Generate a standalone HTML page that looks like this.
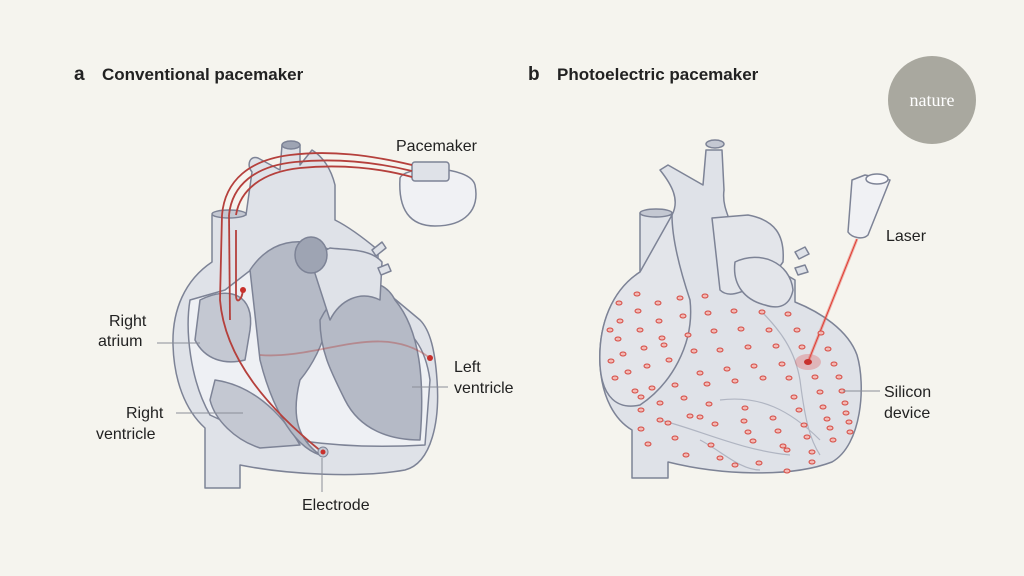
<!DOCTYPE html>
<html><head><meta charset="utf-8"><style>
html,body{margin:0;padding:0;background:#f5f4ee;}
svg{display:block}
text{font-family:"Liberation Sans",sans-serif;fill:#222;}
</style></head><body>
<svg width="1024" height="576" viewBox="0 0 1024 576">
<rect width="1024" height="576" fill="#f5f4ee"/>
<text x="74" y="80" font-size="19" font-weight="bold">a</text>
<text x="102" y="80" font-size="17" font-weight="bold">Conventional pacemaker</text>
<text x="528" y="80" font-size="19" font-weight="bold">b</text>
<text x="557" y="80" font-size="17" font-weight="bold">Photoelectric pacemaker</text>
<circle cx="932" cy="100" r="44" fill="#a9a89f"/>
<text x="932" y="106" font-size="18" text-anchor="middle" style="fill:#fff;font-family:'Liberation Serif',serif">nature</text>

<!-- Heart A -->
<g stroke="#7d8396" stroke-width="1.5" stroke-linejoin="round">
<path d="M212 215 L212 262 C185 280 172 310 173 345 C174 380 185 410 205 428 L205 488 L240 488 L240 465 C290 475 360 478 405 470 C432 463 440 420 437 380 C435 350 430 330 420 320 L378 285 L378 250 C360 235 345 225 335 220 L335 185 C330 165 320 155 312 150 L300 165 L300 145 L282 145 L280 170 L258 158 C250 155 246 165 252 172 L246 215 Z" fill="#dfe2e8"/>
<path d="M190 300 C185 330 190 380 210 415 C260 440 340 450 425 445 L430 380 C425 345 410 330 395 325 L370 300 L330 260 L270 255 L225 290 Z" fill="#eef0f4"/>
<path d="M200 300 C230 285 255 295 250 330 L245 360 C225 365 205 360 195 340 Z" fill="#c4c8d2"/>
<path d="M215 380 C250 385 280 410 300 445 L260 448 C235 440 215 420 210 400 Z" fill="#c4c8d2"/>
<path d="M250 270 C270 240 300 235 330 250 C340 300 325 350 300 380 C290 420 300 440 320 455 C290 445 270 400 260 360 Z" fill="#b5bac6"/>
<path d="M320 320 C340 280 380 270 395 300 C420 330 425 380 420 440 C390 440 360 430 345 400 C330 370 320 350 320 320 Z" fill="#b5bac6"/>
<path d="M310 258 L330 248 C345 250 370 248 382 262 L380 300 C360 290 340 300 330 320 Z" fill="#dfe2e8"/>
<ellipse cx="311" cy="255" rx="16" ry="18" fill="#9ea4b3"/>
<path d="M372 250 l10 -8 l4 6 l-10 8Z M378 268 l10 -4 l3 7 l-10 4Z" fill="#dfe2e8"/>
<ellipse cx="291" cy="145" rx="9" ry="4" fill="#9ea4b3"/>
<ellipse cx="229" cy="214" rx="17" ry="4" fill="#c4c8d2"/>
<path d="M400 178 C405 165 470 165 475 185 C480 210 465 226 435 226 C410 226 398 210 400 178Z" fill="#f0f1f4"/>
<rect x="412" y="162" width="37" height="19" rx="3" fill="#dfe2e8"/>
</g>
<g fill="none" stroke="#b5403c" stroke-width="1.8">
<path d="M222 215 C225 180 250 160 290 155 C330 150 370 155 412 165"/>
<path d="M229 215 C232 185 255 166 295 162 C335 158 375 162 412 171"/>
<path d="M236 215 C240 190 262 172 300 168 C340 164 380 168 412 177"/>
<path d="M222 215 L220 300 C225 360 270 410 322 452"/>
<path d="M229 215 L230 320"/>
<path d="M236 230 L236 295 C236 305 242 300 243 290"/>
<path d="M260 355 C320 360 380 320 430 358" stroke-opacity="0.4"/>
</g>
<circle cx="243" cy="290" r="3" fill="#c8302c"/>
<circle cx="430" cy="358" r="3" fill="#c8302c"/>
<circle cx="323" cy="452" r="5" fill="#c4c8d2" stroke="#7d8396"/>
<circle cx="323" cy="452" r="2.5" fill="#c8302c"/>
<g stroke="#8a8e98" stroke-width="1">
<line x1="157" y1="343" x2="200" y2="343"/>
<line x1="176" y1="413" x2="243" y2="413"/>
<line x1="322" y1="458" x2="322" y2="492"/>
<line x1="412" y1="387" x2="448" y2="387"/>
</g>
<g font-size="16">
<text x="109" y="326">Right</text><text x="98" y="346">atrium</text>
<text x="126" y="418">Right</text><text x="96" y="439">ventricle</text>
<text x="302" y="510">Electrode</text>
<text x="454" y="372">Left</text><text x="454" y="393">ventricle</text>
<text x="396" y="151">Pacemaker</text>
</g>

<!-- Heart B -->
<g stroke="#7d8396" stroke-width="1.5" stroke-linejoin="round">
<path d="M640 213 L640 272 C612 290 598 325 600 365 C602 398 615 420 632 430 L632 478 L668 478 L668 462 C720 475 790 478 832 462 C862 445 866 385 857 355 C848 330 820 312 795 302 L795 280 C780 270 760 268 745 270 L735 235 C728 215 722 205 724 190 L722 150 L706 150 L703 185 L668 165 L660 170 C672 185 680 200 672 215 Z" fill="#dfe2e8"/>
<path d="M640 272 C612 290 598 325 600 365 C602 398 618 410 640 405 C670 385 695 345 690 300 C680 270 672 240 672 215 Z" fill="#e3e5ea"/>
<path d="M712 218 L748 215 C775 220 785 235 783 262 L770 280 C745 290 730 300 720 290 Z" fill="#e3e5ea"/>
<path d="M735 262 C760 250 790 262 793 290 C790 305 780 310 765 305 C745 300 732 285 735 262Z" fill="#e3e5ea"/>
<path d="M795 252 l10 -5 l4 7 l-10 5Z M795 268 l10 -3 l3 7 l-10 3Z" fill="#dfe2e8"/>
<ellipse cx="656" cy="213" rx="16" ry="4" fill="#c4c8d2"/>
<ellipse cx="715" cy="144" rx="9" ry="4" fill="#c4c8d2"/>
<path d="M852 180 L865 175 L890 180 L868 235 C863 240 852 238 848 232 Z" fill="#f0f1f4"/>
<ellipse cx="877" cy="179" rx="11" ry="5" fill="#f8f8fa"/>
</g>
<g fill="none" stroke="#b0b5c2" stroke-width="1.2">
<path d="M760 310 C780 330 795 350 800 380 C805 420 810 440 820 455"/>
<path d="M720 400 C760 395 790 410 820 440"/>
<path d="M660 420 C700 430 740 450 790 455"/>
<path d="M700 440 C720 450 740 470 760 470"/>
</g>
<line x1="857" y1="239" x2="808" y2="362" stroke="#e56a60" stroke-width="3" stroke-opacity="0.5"/>
<line x1="857" y1="239" x2="808" y2="362" stroke="#e03a30" stroke-width="1"/>
<ellipse cx="808" cy="362" rx="13" ry="8" fill="#e06060" fill-opacity="0.35"/>
<ellipse cx="808" cy="362" rx="4" ry="3" fill="#c8302c"/>
<g fill="#f2b9b5" stroke="#d64c44" stroke-width="1">
<ellipse cx="637" cy="294" rx="3" ry="2"/><ellipse cx="658" cy="303" rx="3" ry="2"/><ellipse cx="680" cy="298" rx="3" ry="2"/><ellipse cx="705" cy="296" rx="3" ry="2"/>
<ellipse cx="638" cy="311" rx="3" ry="2"/><ellipse cx="659" cy="321" rx="3" ry="2"/><ellipse cx="683" cy="316" rx="3" ry="2"/><ellipse cx="708" cy="313" rx="3" ry="2"/><ellipse cx="734" cy="311" rx="3" ry="2"/><ellipse cx="762" cy="312" rx="3" ry="2"/><ellipse cx="788" cy="314" rx="3" ry="2"/>
<ellipse cx="619" cy="303" rx="3" ry="2"/><ellipse cx="620" cy="321" rx="3" ry="2"/><ellipse cx="610" cy="330" rx="3" ry="2"/><ellipse cx="618" cy="339" rx="3" ry="2"/>
<ellipse cx="640" cy="330" rx="3" ry="2"/><ellipse cx="662" cy="338" rx="3" ry="2"/><ellipse cx="688" cy="335" rx="3" ry="2"/><ellipse cx="714" cy="331" rx="3" ry="2"/><ellipse cx="741" cy="329" rx="3" ry="2"/><ellipse cx="769" cy="330" rx="3" ry="2"/><ellipse cx="797" cy="330" rx="3" ry="2"/><ellipse cx="821" cy="333" rx="3" ry="2"/>
<ellipse cx="623" cy="354" rx="3" ry="2"/><ellipse cx="644" cy="348" rx="3" ry="2"/><ellipse cx="664" cy="345" rx="3" ry="2"/><ellipse cx="694" cy="351" rx="3" ry="2"/><ellipse cx="720" cy="350" rx="3" ry="2"/><ellipse cx="748" cy="347" rx="3" ry="2"/><ellipse cx="776" cy="346" rx="3" ry="2"/><ellipse cx="802" cy="347" rx="3" ry="2"/><ellipse cx="828" cy="349" rx="3" ry="2"/>
<ellipse cx="611" cy="361" rx="3" ry="2"/><ellipse cx="628" cy="372" rx="3" ry="2"/><ellipse cx="647" cy="366" rx="3" ry="2"/><ellipse cx="669" cy="360" rx="3" ry="2"/><ellipse cx="700" cy="373" rx="3" ry="2"/><ellipse cx="727" cy="369" rx="3" ry="2"/><ellipse cx="754" cy="366" rx="3" ry="2"/><ellipse cx="782" cy="364" rx="3" ry="2"/><ellipse cx="834" cy="364" rx="3" ry="2"/>
<ellipse cx="615" cy="378" rx="3" ry="2"/><ellipse cx="635" cy="391" rx="3" ry="2"/><ellipse cx="652" cy="388" rx="3" ry="2"/><ellipse cx="675" cy="385" rx="3" ry="2"/><ellipse cx="707" cy="384" rx="3" ry="2"/><ellipse cx="735" cy="381" rx="3" ry="2"/><ellipse cx="763" cy="378" rx="3" ry="2"/><ellipse cx="789" cy="378" rx="3" ry="2"/><ellipse cx="815" cy="377" rx="3" ry="2"/><ellipse cx="839" cy="377" rx="3" ry="2"/>
<ellipse cx="641" cy="397" rx="3" ry="2"/><ellipse cx="660" cy="403" rx="3" ry="2"/><ellipse cx="684" cy="398" rx="3" ry="2"/><ellipse cx="709" cy="404" rx="3" ry="2"/><ellipse cx="745" cy="408" rx="3" ry="2"/><ellipse cx="794" cy="397" rx="3" ry="2"/><ellipse cx="820" cy="392" rx="3" ry="2"/><ellipse cx="842" cy="391" rx="3" ry="2"/>
<ellipse cx="641" cy="410" rx="3" ry="2"/><ellipse cx="660" cy="420" rx="3" ry="2"/><ellipse cx="690" cy="416" rx="3" ry="2"/><ellipse cx="715" cy="424" rx="3" ry="2"/><ellipse cx="744" cy="421" rx="3" ry="2"/><ellipse cx="773" cy="418" rx="3" ry="2"/><ellipse cx="799" cy="410" rx="3" ry="2"/><ellipse cx="823" cy="407" rx="3" ry="2"/><ellipse cx="845" cy="403" rx="3" ry="2"/>
<ellipse cx="641" cy="429" rx="3" ry="2"/><ellipse cx="668" cy="423" rx="3" ry="2"/><ellipse cx="700" cy="417" rx="3" ry="2"/><ellipse cx="748" cy="432" rx="3" ry="2"/><ellipse cx="778" cy="431" rx="3" ry="2"/><ellipse cx="804" cy="425" rx="3" ry="2"/><ellipse cx="827" cy="419" rx="3" ry="2"/><ellipse cx="846" cy="413" rx="3" ry="2"/>
<ellipse cx="648" cy="444" rx="3" ry="2"/><ellipse cx="675" cy="438" rx="3" ry="2"/><ellipse cx="711" cy="445" rx="3" ry="2"/><ellipse cx="753" cy="441" rx="3" ry="2"/><ellipse cx="783" cy="446" rx="3" ry="2"/><ellipse cx="807" cy="437" rx="3" ry="2"/><ellipse cx="830" cy="428" rx="3" ry="2"/><ellipse cx="849" cy="422" rx="3" ry="2"/>
<ellipse cx="686" cy="455" rx="3" ry="2"/><ellipse cx="720" cy="458" rx="3" ry="2"/><ellipse cx="759" cy="463" rx="3" ry="2"/><ellipse cx="787" cy="450" rx="3" ry="2"/><ellipse cx="812" cy="452" rx="3" ry="2"/><ellipse cx="833" cy="440" rx="3" ry="2"/><ellipse cx="850" cy="432" rx="3" ry="2"/>
<ellipse cx="735" cy="465" rx="3" ry="2"/><ellipse cx="787" cy="471" rx="3" ry="2"/><ellipse cx="812" cy="462" rx="3" ry="2"/>
</g>
<line x1="843" y1="391" x2="880" y2="391" stroke="#8a8e98"/>
<g font-size="16">
<text x="886" y="241">Laser</text>
<text x="884" y="397">Silicon</text><text x="884" y="418">device</text>
</g>
</svg>
</body></html>
